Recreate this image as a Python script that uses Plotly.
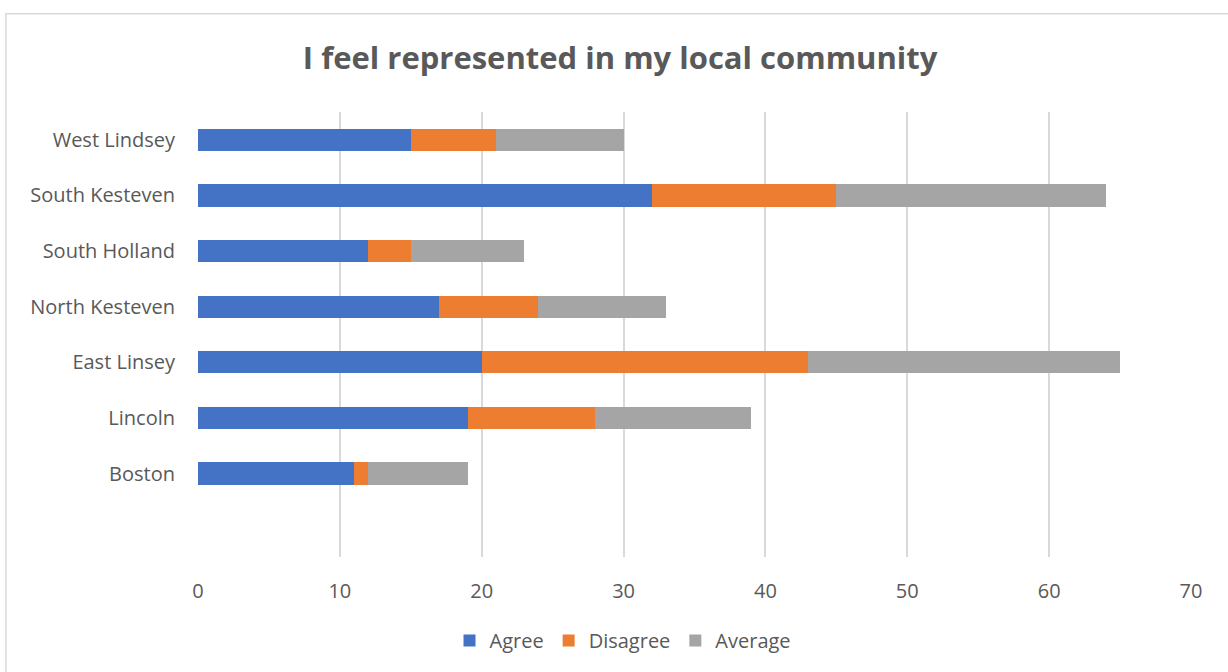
import plotly.graph_objects as go

# Survey responses per district
districts = ["Boston", "Lincoln", "East Linsey", "North Kesteven",
             "South Holland", "South Kesteven", "West Lindsey"]
agree = [11, 19, 20, 17, 12, 32, 15]
disagree = [1, 9, 23, 7, 3, 13, 6]
average = [7, 11, 22, 9, 8, 19, 9]

x_ticks = [0, 10, 20, 30, 40, 50, 60, 70]

TEXT = "#595959"
FONT = "Open Sans"

fig = go.Figure()
for name, vals, color in [("Agree", agree, "#4472C4"),
                          ("Disagree", disagree, "#ED7D31"),
                          ("Average", average, "#A5A5A5")]:
    fig.add_trace(go.Bar(
        y=districts, x=vals, name=name, orientation="h",
        marker=dict(color=color, line=dict(width=0)),
    ))

fig.update_layout(
    barmode="stack",
    bargap=0.6,
    width=1228, height=672,
    margin=dict(l=198, r=37, t=112, b=112),
    paper_bgcolor="white",
    plot_bgcolor="white",
    font=dict(family=FONT, color=TEXT, size=20),
    title=dict(
        text="<b>I feel represented in my local community</b>",
        x=0.505, xref="container", xanchor="center",
        y=1 - 58 / 672, yref="container", yanchor="middle",
        font=dict(family=FONT, size=31, color=TEXT),
    ),
    xaxis=dict(
        range=[0, 70], tickvals=x_ticks,
        showgrid=True, gridcolor="#D9D9D9", gridwidth=1.5,
        zeroline=False, showline=False,
        ticks="", ticklabelstandoff=20,
        tickfont=dict(size=20, color=TEXT),
    ),
    yaxis=dict(
        type="category", categoryorder="array", categoryarray=districts,
        range=[-1.5, 6.5],
        showgrid=False, zeroline=False, showline=False,
        ticks="", ticklabelstandoff=22,
        tickfont=dict(size=20, color=TEXT),
    ),
    legend=dict(
        orientation="h", x=0.428, xanchor="center",
        y=-0.1875, yanchor="middle",
        font=dict(size=20, color=TEXT),
        itemwidth=30, traceorder="normal",
    ),
    shapes=[dict(
        type="rect", xref="paper", yref="paper",
        x0=-0.1934, x1=1.05, y0=-0.3, y1=1.221,
        line=dict(color="#D9D9D9", width=1.5),
        fillcolor="rgba(0,0,0,0)", layer="below",
    )],
)

fig.write_html("out.html")
